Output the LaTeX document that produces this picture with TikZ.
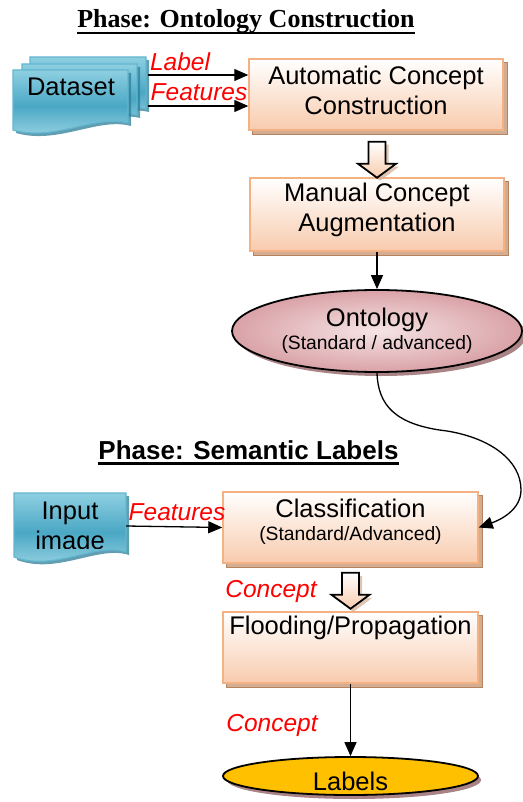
\documentclass[tikz,border=0pt]{standalone}
\usepackage{fontspec}
\setmainfont{Liberation Sans}
\newfontfamily\timesf{Liberation Serif}
\usetikzlibrary{arrows.meta,shapes.geometric,calc,backgrounds}
\definecolor{boxedge}{HTML}{F4B183}
\definecolor{boxlow}{HTML}{F8CBAD}
\definecolor{shadowtan}{HTML}{D2AD92}
\definecolor{shadowline}{HTML}{B7825E}
\definecolor{bluetop}{HTML}{8ECFE1}
\definecolor{bluemid}{HTML}{4AA8C5}
\definecolor{bluebot}{HTML}{A3D8E6}
\definecolor{blueedge}{HTML}{62B6D0}
\definecolor{blueshadow}{HTML}{2E7E97}
\definecolor{pinkin}{HTML}{F6E4E5}
\definecolor{pinkout}{HTML}{D9A2A7}
\definecolor{labyellow}{HTML}{FFC000}
\definecolor{ellshadow}{HTML}{A98386}
\definecolor{redlab}{HTML}{FF0000}
\begin{document}
\begin{tikzpicture}[x=1pt,y=-1pt,
  procbox/.style={draw=boxedge, line width=1.5pt, top color=white, bottom color=boxlow,
    minimum width=254pt, minimum height=71pt, inner sep=0pt},
  boxtext/.style={align=center, inner sep=0pt, font=\fontsize{25.5}{30}\selectfont},
  smalltext/.style={inner sep=0pt, font=\fontsize{19.3}{22}\selectfont},
  redtext/.style={inner sep=0pt, text=redlab, font=\itshape\fontsize{24.5}{28}\selectfont},
  arr/.style={line width=1.3pt, -{Triangle[length=14pt,width=12pt]}},
  boxshadow/.style={fill=shadowtan, draw=shadowline, line width=0.6pt},
  sheet/.style={draw=blueedge, line width=1.2pt, top color=bluetop, bottom color=bluebot, middle color=bluemid},
  sheetshadow/.style={fill=blueshadow, opacity=0.75},
  hollowstyle/.style={draw=black, line width=1.8pt, top color=white, bottom color=boxlow, line join=miter},
  hollow/.pic={
    \path[fill=shadowtan, opacity=0.7] (-5.5,3) -- (11.5,3) -- (11.5,25) -- (22,25) -- (3,39) -- (-16,25) -- (-5.5,25) -- cycle;
    \path[hollowstyle] (-8.5,0) -- (8.5,0) -- (8.5,22) -- (19,22) -- (0,36) -- (-19,22) -- (-8.5,22) -- cycle;
  }
]
\useasboundingbox (0,0) rectangle (522,802);

% ---------- titles ----------
\node[inner sep=0pt, anchor=base, font=\timesf\bfseries\fontsize{26}{30}\selectfont] (t1) at (246,28) {Phase: Ontology Construction};
\draw[line width=2.5pt] ([yshift=-4.8pt]t1.base west) -- ([yshift=-4.8pt]t1.base east);
\node[inner sep=0pt, anchor=base, font=\bfseries\fontsize{26}{30}\selectfont] (t2) at (248.5,459) {Phase: Semantic Labels};
\draw[line width=2.5pt] ([yshift=-4.3pt]t2.base west) -- ([yshift=-4.3pt]t2.base east);

% ---------- dataset (stacked documents) ----------
\path[sheetshadow] (33,60) -- (149,60) -- (149,112) .. controls (116,104) and (76,130) .. (33,118) -- cycle;
\path[sheet] (30,57) -- (146,57) -- (146,109) .. controls (113,101) and (73,127) .. (30,115) -- cycle;
\path[sheetshadow] (25,67) -- (140,67) -- (140,118) .. controls (107,110) and (67,136) .. (25,125) -- cycle;
\path[sheet] (22,64) -- (137,64) -- (137,115) .. controls (104,107) and (64,133) .. (22,122) -- cycle;
\path[sheetshadow] (16,73) -- (131,73) -- (131,126) .. controls (98,117) and (58,145) .. (16,133) -- cycle;
\path[sheet] (13,70) -- (128,70) -- (128,123) .. controls (95,114) and (55,142) .. (13,130) -- cycle;
\node[minimum width=136pt, minimum height=74pt, inner sep=0pt] (ds) at (80,94) {};
\node[boxtext] (dst) at (71,86.5) {Dataset};

% ---------- input image ----------
\path[sheetshadow] (17,496) -- (129,496) -- (129,555) .. controls (98,545) and (58,575) .. (17,560) -- cycle;
\path[sheet] (14,493) -- (126,493) -- (126,552) .. controls (95,542) and (55,572) .. (14,557) -- cycle;
\node[minimum width=112pt, minimum height=64pt, inner sep=0pt] (inp) at (70,526) {};
\begin{scope}
  \clip (14,493) rectangle (126,548);
  \node[boxtext] (inpt) at (70,528) {Input\\image};
\end{scope}

% ---------- process boxes ----------
\node[procbox] (auto) at (376,94.5) {};
\node[procbox, minimum height=73pt] (manual) at (377,214.5) {};
\node[procbox, minimum width=255pt] (class) at (350.5,527.5) {};
\node[procbox, minimum width=255pt] (flood) at (350.5,647.5) {};
\begin{scope}[on background layer]
  \foreach \b in {auto,manual,class,flood}{
    \path[boxshadow] ($(\b.north west)+(4,4)$) rectangle ($(\b.south east)+(4,4)$);
  }
\end{scope}
\node[boxtext] (autot) at (376,90) {Automatic Concept\\Construction};
\node[boxtext] (manualt) at (377,210) {Manual Concept\\Augmentation};
\node[boxtext] (classt) at (350.5,508) {Classification};
\node[smalltext] (classs) at (350.5,535.5) {(Standard/Advanced)};
\node[boxtext] (floodt) at (350.5,628) {Flooding/Propagation};

% ---------- ellipses ----------
\fill[ellshadow] (381,335) ellipse [x radius=145pt, y radius=41pt];
\node[ellipse, draw=black, line width=1.8pt, inner color=pinkin, outer color=pinkout,
  minimum width=290pt, minimum height=82pt, inner sep=0pt] (onto) at (377,331) {};
\node[boxtext] (ontot) at (377,320) {Ontology};
\node[smalltext] (ontos) at (377,345) {(Standard / advanced)};

\fill[ellshadow] (354,780) ellipse [x radius=127pt, y radius=19pt];
\node[ellipse, draw=black, line width=1.8pt, fill=labyellow,
  minimum width=255pt, minimum height=38pt, inner sep=0pt] (labs) at (350.5,776) {};
\node[boxtext] (labst) at (350.5,781) {Labels};

% ---------- hollow arrows ----------
\pic (h1) at ($(auto.south)+(1,11)$) {hollow};
\pic (h2) at ($(class.south)+(0,9)$) {hollow};

% ---------- connectors ----------
\draw[arr] ([yshift=19pt]ds.east) -- ([yshift=19.5pt]auto.west);
\draw[arr] ([yshift=-12pt]ds.east) -- ([yshift=-11.5pt]auto.west);
\draw[arr] (inp.east) -- (class.west);
\draw[arr] (manual.south) -- (onto.north);
\draw[arr] (flood.south) -- (labs.north);
\draw[arr] (onto.south) .. controls (378,405) and (395,425) .. (447,431)
  .. controls (490,438) and (521,460) .. (521,490)
  .. controls (521,510) and (500,520) .. (class.east);

% ---------- red labels ----------
\node[redtext] (lab1) at (180,62) {Label};
\node[redtext] (feat1) at (199,92.5) {Features};
\node[redtext] (feat2) at (177,512) {Features};
\node[redtext] (con1) at (271,591) {Concept};
\node[redtext] (con2) at (272,725) {Concept};
\end{tikzpicture}
\end{document}
